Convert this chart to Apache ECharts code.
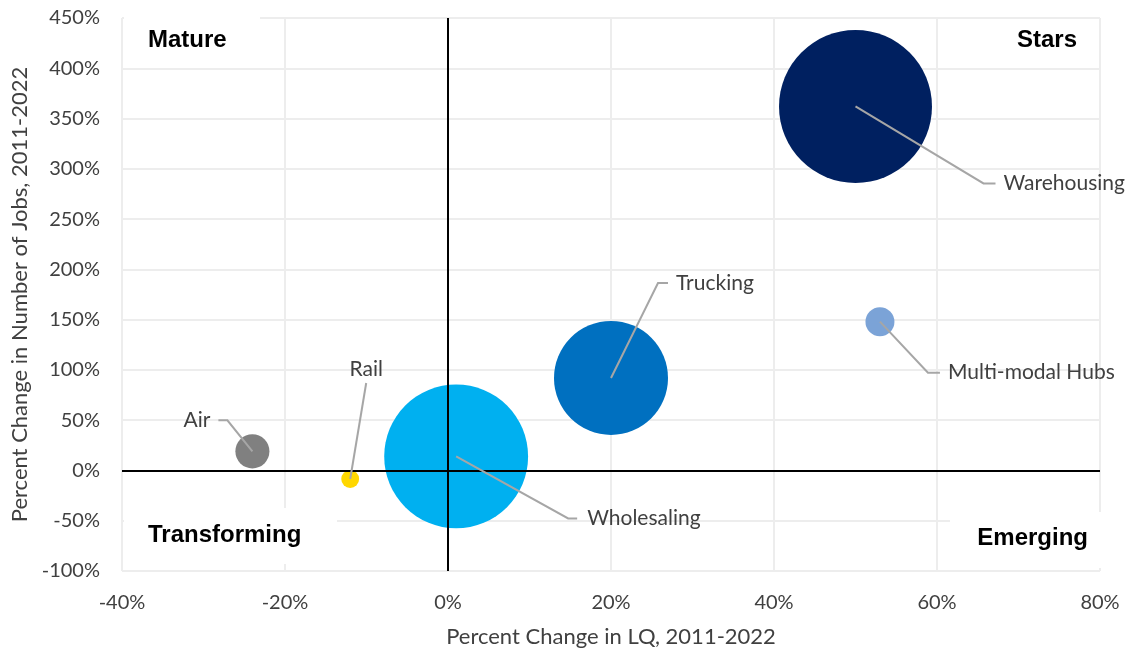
<!DOCTYPE html>
<html><head><meta charset="utf-8">
<script src="https://cdn.jsdelivr.net/npm/echarts@6/dist/echarts.min.js"></script>
<style>html,body{margin:0;padding:0;background:#fff}#c{width:1132px;height:654px}</style>
</head><body><div id="c"></div>
<script>
// ---- data ----
const industries = ['Warehousing', 'Trucking', 'Wholesaling', 'Multi-modal Hubs', 'Air', 'Rail'];
const lqChange   = [50, 20, 1, 53, -24, -12];          // % change in LQ, 2011-2022
const jobsChange = [362, 92, 14, 148, 19, -8.5];       // % change in number of jobs
const bubbleSize = [23400, 13000, 20700, 840, 1160, 320]; // bubble area (relative)
const xTickValues = [-40, -20, 0, 20, 40, 60, 80];
const yTickValues = [-100, -50, 0, 50, 100, 150, 200, 250, 300, 350, 400, 450];
const quadrants = ['Mature', 'Stars', 'Transforming', 'Emerging'];

// ---- styles ----
const colors = ['#002060', '#0070C0', '#00B0F0', '#7BA3D7', '#808080', '#FFD700'];
const tickFont = 'Lato';
const quadFont = 'bold 24px "Liberation Sans"';
const leaders = [
  { pts: [[128, 77], [140, 77]], text: [148, 77], align: 'left' },
  { pts: [[47, -95], [57, -95]], text: [65, -95], align: 'left' },
  { pts: [[112, 62], [121, 62]], text: [131, 62], align: 'left' },
  { pts: [[48, 51], [60, 51]], text: [68, 51], align: 'left' },
  { pts: [[-25, -31], [-34, -31]], text: [-42, -31], align: 'right' },
  { pts: [[16, -96]], text: [16, -110], align: 'center' }
];

const chart = echarts.init(document.getElementById('c'), null, { renderer: 'canvas' });
const pts = lqChange.map((x, i) => [x, jobsChange[i], bubbleSize[i], i]);

const option = {
  backgroundColor: '#fff',
  animation: false,
  grid: { left: 122, right: 32, top: 18, bottom: 83 },
  xAxis: {
    type: 'value', min: xTickValues[0], max: xTickValues[xTickValues.length - 1], interval: 20,
    name: 'Percent Change in LQ, 2011-2022', nameLocation: 'middle', nameGap: 55,
    nameTextStyle: { fontFamily: tickFont, fontSize: 22, color: '#404040' },
    axisLine: { show: false }, axisTick: { show: false },
    axisLabel: { formatter: '{value}%', fontFamily: tickFont, fontSize: 20, color: '#404040', margin: 22 },
    splitLine: { show: true, lineStyle: { color: '#EDEDED', width: 2 } }
  },
  yAxis: {
    type: 'value', min: yTickValues[0], max: yTickValues[yTickValues.length - 1], interval: 50,
    name: 'Percent Change in Number of Jobs, 2011-2022', nameLocation: 'middle', nameGap: 89,
    nameTextStyle: { fontFamily: tickFont, fontSize: 22, color: '#404040' },
    axisLine: { show: false }, axisTick: { show: false },
    axisLabel: { formatter: '{value}%', fontFamily: tickFont, fontSize: 20, color: '#404040', margin: 22 },
    splitLine: { show: true, lineStyle: { color: '#EDEDED', width: 2 } }
  },
  series: [
    {
      type: 'scatter', data: [], z: 1, silent: true,
      markLine: {
        silent: true, symbol: 'none', label: { show: false }, animation: false,
        lineStyle: { color: '#000', width: 2, type: 'solid' },
        data: [{ xAxis: 0 }, { yAxis: 0 }]
      }
    },
    {
      type: 'scatter', z: 3,
      data: pts.map((p, i) => ({ value: p, itemStyle: { color: colors[i], opacity: 1 } })),
      symbolSize: v => Math.sqrt(v[2])
    },
    {
      type: 'custom', z: 5, clip: false, silent: true,
      data: pts,
      renderItem: (params, api) => {
        const i = api.value(3);
        const c = api.coord([api.value(0), api.value(1)]);
        const L = leaders[i];
        const line = [[c[0], c[1]]].concat(L.pts.map(p => [c[0] + p[0], c[1] + p[1]]));
        return {
          type: 'group', children: [
            { type: 'polyline', shape: { points: line }, style: { stroke: '#A6A6A6', lineWidth: 2, fill: null } },
            { type: 'text', x: c[0] + L.text[0], y: c[1] + L.text[1],
              style: { text: industries[i], fill: '#404040', font: '21px Lato', align: L.align, verticalAlign: 'middle' } }
          ]
        };
      }
    }
  ],
  graphic: [
    { type: 'rect', shape: { x: 124, y: 4, width: 136, height: 60 }, style: { fill: '#fff' }, z: 50 },
    { type: 'rect', shape: { x: 124, y: 508, width: 213, height: 56 }, style: { fill: '#fff' }, z: 50 },
    { type: 'rect', shape: { x: 950, y: 512, width: 152, height: 56 }, style: { fill: '#fff' }, z: 50 },
    { type: 'text', x: 148, y: 40, z: 60, style: { text: quadrants[0], font: quadFont, fill: '#000', align: 'left', verticalAlign: 'middle' } },
    { type: 'text', x: 1077, y: 40, z: 60, style: { text: quadrants[1], font: quadFont, fill: '#000', align: 'right', verticalAlign: 'middle' } },
    { type: 'text', x: 148, y: 535, z: 60, style: { text: quadrants[2], font: quadFont, fill: '#000', align: 'left', verticalAlign: 'middle' } },
    { type: 'text', x: 1088, y: 538, z: 60, style: { text: quadrants[3], font: quadFont, fill: '#000', align: 'right', verticalAlign: 'middle' } }
  ]
};
chart.setOption(option);
</script></body></html>
